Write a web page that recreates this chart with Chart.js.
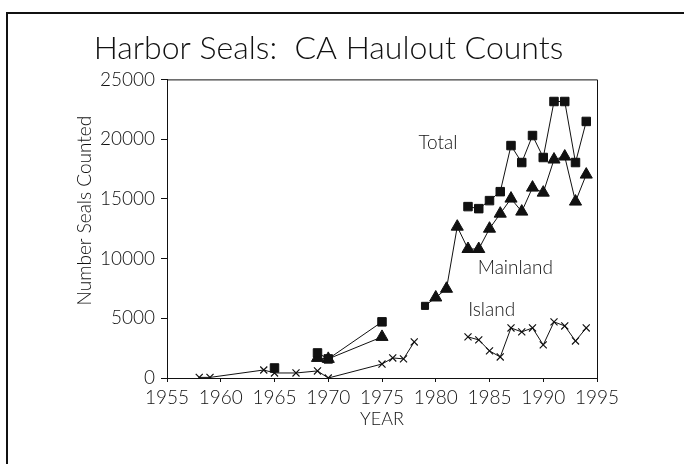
<!DOCTYPE html>
<html>
<head>
<meta charset="utf-8">
<script src="https://cdn.jsdelivr.net/npm/chart.js@4.4.0/dist/chart.umd.min.js"></script>
<style>
  html, body { margin: 0; padding: 0; background: #fff; }
  #wrap { width: 684px; height: 464px; }
</style>
</head>
<body>
<div id="wrap"><canvas id="sealChart" width="684" height="464"></canvas></div>
<script>
// data (null = no count that year, breaks the line)
const totalYears  = [1965, 1967, 1969, 1970, 1975, 1979, 1983, 1984, 1985, 1986, 1987, 1988, 1989, 1990, 1991, 1992, 1993, 1994];
const totalCounts = [840, null, 2100, 1600, 4700, null, 14350, 14180, 14850, 15600, 19460, 18040, 20300, 18460, 23150, 23150, 18040, 21480];

const mainlandYears  = [1969, 1970, 1975, 1977, 1979, 1980, 1981, 1982, 1983, 1984, 1985, 1986, 1987, 1988, 1989, 1990, 1991, 1992, 1993, 1994];
const mainlandCounts = [1680, 1600, 3440, null, 6040, 6740, 7470, 12670, 10800, 10800, 12500, 13760, 15020, 13930, 15940, 15520, 18290, 18540, 14770, 17030];

const islandYears  = [1958, 1959, 1964, 1965, 1967, 1969, 1970, 1975, 1976, 1977, 1978, 1980, 1983, 1984, 1985, 1986, 1987, 1988, 1989, 1990, 1991, 1992, 1993, 1994];
const islandCounts = [50, 50, 670, 420, 420, 590, 0, 1170, 1680, 1600, 3020, null, 3440, 3190, 2270, 1760, 4190, 3860, 4190, 2770, 4700, 4360, 3100, 4190];

const yearTicks  = [1955, 1960, 1965, 1970, 1975, 1980, 1985, 1990, 1995];
const countTicks = [0, 5000, 10000, 15000, 20000, 25000];

// series name labels written inside the plot, placed in data units
const seriesLabels = [
  { text: 'Total',    year: 1980.2, count: 19700 },
  { text: 'Mainland', year: 1987.4, count: 9200 },
  { text: 'Island',   year: 1985.2, count: 5700 }
];

const FONT = 'Lato, "Liberation Sans", sans-serif';
const INK = '#111';

function pts(xs, ys) {
  return xs.map((x, i) => ({ x: x, y: ys[i] }));
}

// white page, plot box, outer frame (top and left edge only, like the scan)
const framePlugin = {
  id: 'frame',
  beforeDraw(chart) {
    const c = chart.ctx;
    c.save();
    c.fillStyle = '#fff';
    c.fillRect(0, 0, chart.width, chart.height);
    c.restore();
  },
  afterDraw(chart) {
    const c = chart.ctx;
    const a = chart.chartArea;
    c.save();
    c.strokeStyle = INK;
    c.lineWidth = 1;
    c.beginPath();
    c.moveTo(a.left, a.top + 0.5);
    c.lineTo(a.right + 0.5, a.top + 0.5);
    c.lineTo(a.right + 0.5, a.bottom);
    c.stroke();
    c.lineWidth = 2;
    c.beginPath();
    c.moveTo(chart.width, 13);
    c.lineTo(7, 13);
    c.lineTo(7, chart.height);
    c.stroke();
    // series names
    const xs = chart.scales.x, ys = chart.scales.y;
    c.fillStyle = INK;
    c.font = '300 19px ' + FONT;
    c.textAlign = 'center';
    c.textBaseline = 'middle';
    seriesLabels.forEach(l => {
      c.fillText(l.text, xs.getPixelForValue(l.year), ys.getPixelForValue(l.count));
    });
    c.restore();
  }
};

const ctx = document.getElementById('sealChart').getContext('2d');
new Chart(ctx, {
  type: 'line',
  data: {
    datasets: [
      {
        label: 'Total',
        data: pts(totalYears, totalCounts),
        borderColor: INK, backgroundColor: INK, borderWidth: 1,
        pointStyle: 'rect', pointRadius: 6, pointBorderWidth: 1,
        spanGaps: false, tension: 0
      },
      {
        label: 'Mainland',
        data: pts(mainlandYears, mainlandCounts),
        borderColor: INK, backgroundColor: INK, borderWidth: 1,
        // the 1979 count is plotted with a square in the original
        pointStyle: c => (mainlandYears[c.dataIndex] === 1979 ? 'rect' : 'triangle'),
        pointRadius: c => (mainlandYears[c.dataIndex] === 1979 ? 5 : 7),
        pointBorderWidth: 1,
        spanGaps: false, tension: 0
      },
      {
        label: 'Island',
        data: pts(islandYears, islandCounts),
        borderColor: INK, backgroundColor: INK, borderWidth: 1,
        pointStyle: 'crossRot', pointRadius: 5, pointBorderWidth: 1.2,
        spanGaps: false, tension: 0
      }
    ]
  },
  options: {
    responsive: false,
    animation: false,
    layout: { padding: { left: 60, right: 87, top: 0, bottom: 0 } },
    plugins: {
      legend: { display: false },
      tooltip: { enabled: false },
      title: {
        display: true,
        text: 'Harbor Seals:  CA Haulout Counts',
        color: INK,
        font: { family: FONT, size: 32, weight: 300 },
        padding: { top: 29, bottom: 12 }
      }
    },
    scales: {
      x: {
        type: 'linear',
        min: yearTicks[0],
        max: yearTicks[yearTicks.length - 1],
        afterBuildTicks: s => { s.ticks = yearTicks.map(v => ({ value: v })); },
        afterFit: s => { s.height = 86; },
        ticks: {
          color: INK, padding: 4, maxRotation: 0, autoSkip: false,
          font: { family: FONT, size: 19, weight: 300 },
          callback: v => String(v)
        },
        grid: { drawOnChartArea: false, drawTicks: true, tickLength: 4, color: INK },
        border: { display: true, color: INK, width: 1 },
        title: {
          display: true, text: 'YEAR', color: INK,
          font: { family: FONT, size: 18, weight: 300 },
          padding: { top: 0, bottom: 34 }
        }
      },
      y: {
        min: countTicks[0],
        max: countTicks[countTicks.length - 1],
        afterBuildTicks: s => { s.ticks = countTicks.map(v => ({ value: v })); },
        afterFit: s => { s.width = 107; },
        ticks: {
          color: INK, padding: 6,
          font: { family: FONT, size: 19, weight: 300 },
          callback: v => String(v)
        },
        grid: { drawOnChartArea: false, drawTicks: true, tickLength: 6, color: INK },
        border: { display: true, color: INK, width: 1 },
        title: {
          display: true, text: '       Number Seals Counted', color: INK,
          font: { family: FONT, size: 19, weight: 300 },
          padding: { top: 13, bottom: 0 }
        }
      }
    }
  },
  plugins: [framePlugin]
});
</script>
</body>
</html>
